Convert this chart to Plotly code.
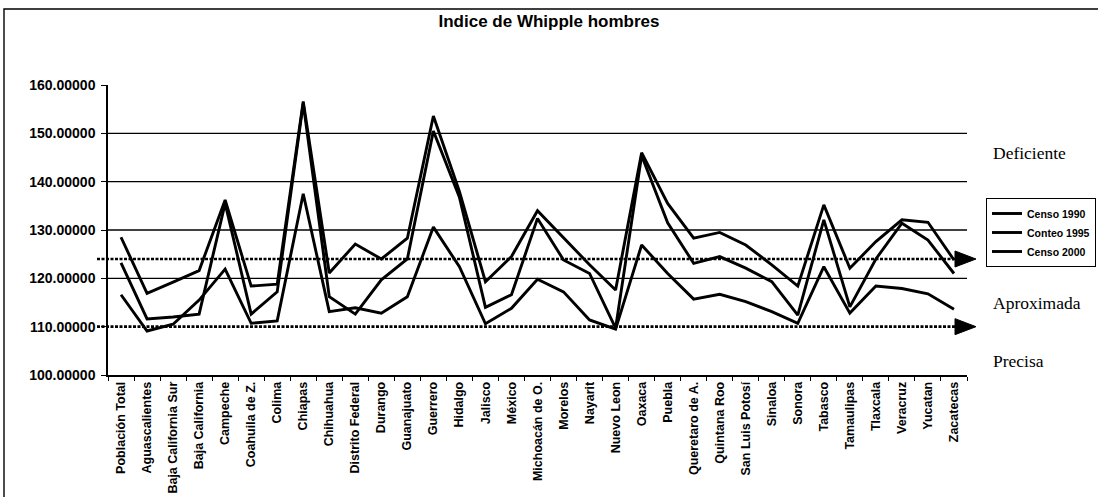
import plotly.graph_objects as go

# Whipple index (men) by federal entity
categories = [
    "Población Total", "Aguascalientes", "Baja California Sur", "Baja California",
    "Campeche", "Coahuila de Z.", "Colima", "Chiapas", "Chihuahua",
    "Distrito Federal", "Durango", "Guanajuato", "Guerrero", "Hidalgo", "Jalisco",
    "México", "Michoacán de O.", "Morelos", "Nayarit", "Nuevo Leon", "Oaxaca",
    "Puebla", "Queretaro de A.", "Quintana Roo", "San Luis Potosí", "Sinaloa",
    "Sonora", "Tabasco", "Tamaulipas", "Tlaxcala", "Veracruz", "Yucatan", "Zacatecas",
]

censo_1990 = [128.5, 116.9, 119.2, 121.6, 136.2, 118.4, 118.8, 156.6, 121.1, 127.1,
              124.0, 128.3, 153.6, 138.0, 119.3, 124.5, 134.0, 128.3, 122.8, 117.6,
              146.0, 135.5, 128.3, 129.5, 126.9, 122.8, 118.4, 135.2, 122.1, 127.6,
              132.1, 131.6, 123.8]
conteo_1995 = [123.2, 111.6, 112.0, 112.6, 135.5, 112.6, 117.2, 156.2, 116.2, 112.6,
               119.7, 124.0, 150.5, 136.8, 114.0, 116.6, 132.4, 123.8, 121.0, 109.7,
               145.4, 131.5, 123.1, 124.5, 122.1, 119.3, 112.4, 132.1, 114.1, 124.0,
               131.4, 127.9, 121.0]
censo_2000 = [116.6, 109.1, 110.5, 115.5, 121.9, 110.7, 111.2, 137.5, 113.1, 113.9,
              112.8, 116.2, 130.6, 122.4, 110.6, 113.8, 119.8, 117.2, 111.4, 109.5,
              126.9, 121.0, 115.7, 116.7, 115.2, 113.1, 110.7, 122.4, 112.8, 118.4,
              117.9, 116.8, 113.6]

series_names = ["Censo 1990", "Conteo 1995", "Censo 2000"]
series_values = [censo_1990, conteo_1995, censo_2000]

y_ticks = [100, 110, 120, 130, 140, 150, 160]
grid_levels = [120, 130, 140, 150]
thresholds = [124, 110]          # limits between precision classes
class_labels = [("Deficiente", 146), ("Aproximada", 115), ("Precisa", 103)]

W, H = 1098, 497
L, R, T, B = 108, 967, 85, 375   # plot area in pixels
Y0, Y1 = 100, 160


def px_x(p):
    return (p - L) / (R - L)


def px_y(p):
    return (B - p) / (B - T)


units_per_px = (Y1 - Y0) / (B - T)

fig = go.Figure()
for name, vals in zip(series_names, series_values):
    fig.add_trace(go.Scatter(
        x=categories, y=vals, mode="lines", name=name,
        line=dict(color="black", width=2.9),
    ))

shapes = []
for g in grid_levels:
    shapes.append(dict(type="line", xref="paper", yref="y", x0=0, x1=1, y0=g, y1=g,
                       line=dict(color="black", width=1.3), layer="below"))
for t in thresholds:
    shapes.append(dict(type="line", xref="paper", yref="y", x0=px_x(97), x1=px_x(958),
                       y0=t, y1=t, line=dict(color="black", width=2.6, dash="3px,1.5px")))
    h = 8 * units_per_px
    shapes.append(dict(
        type="path", xref="paper", yref="y",
        path=f"M {px_x(955)},{t + h} L {px_x(976)},{t} L {px_x(955)},{t - h} Z",
        fillcolor="black", line=dict(color="black", width=1)))
# outer chart frame (left and top edges fall inside the page)
shapes.append(dict(type="rect", xref="paper", yref="paper",
                   x0=px_x(4), x1=px_x(1104), y0=px_y(505), y1=px_y(9),
                   line=dict(color="black", width=1.4)))

annotations = []
for text, yv in class_labels:
    annotations.append(dict(text=text, xref="paper", yref="y", x=px_x(991), y=yv,
                            xanchor="left", yanchor="middle", showarrow=False,
                            font=dict(family="Liberation Serif", size=17.5, color="black")))

fig.update_layout(
    width=W, height=H,
    margin=dict(l=L, r=W - R, t=T, b=H - B, pad=0, autoexpand=False),
    paper_bgcolor="white", plot_bgcolor="white",
    title=dict(text="<b>Indice de Whipple hombres</b>", x=0.5, xanchor="center",
               y=1 - 21 / H, yanchor="middle",
               font=dict(family="Liberation Sans", size=17, color="black")),
    shapes=shapes, annotations=annotations,
    showlegend=True,
    legend=dict(x=px_x(986), y=px_y(198), xanchor="left", yanchor="top",
                bordercolor="black", borderwidth=1, bgcolor="white",
                font=dict(family="Liberation Sans", size=10.5, color="black", weight="bold"),
                itemwidth=30, tracegroupgap=0),
    xaxis=dict(type="category", showgrid=False, showline=True, linecolor="black",
               linewidth=1.5, ticks="outside", ticklen=4, tickcolor="black",
               tickson="boundaries", tickangle=-90, automargin=False,
               tickfont=dict(family="Liberation Sans", size=12.5, color="black", weight="bold"),
               range=[-0.5, len(categories) - 0.5]),
    yaxis=dict(range=[Y0, Y1], tickvals=y_ticks, tickformat=".5f", showgrid=False,
               zeroline=False, showline=True, linecolor="black", linewidth=1.5,
               ticks="outside", ticklen=5, tickcolor="black", ticklabelstandoff=3,
               automargin=False,
               tickfont=dict(family="Liberation Sans", size=14, color="black", weight="bold")),
)

fig.write_html("out.html")
